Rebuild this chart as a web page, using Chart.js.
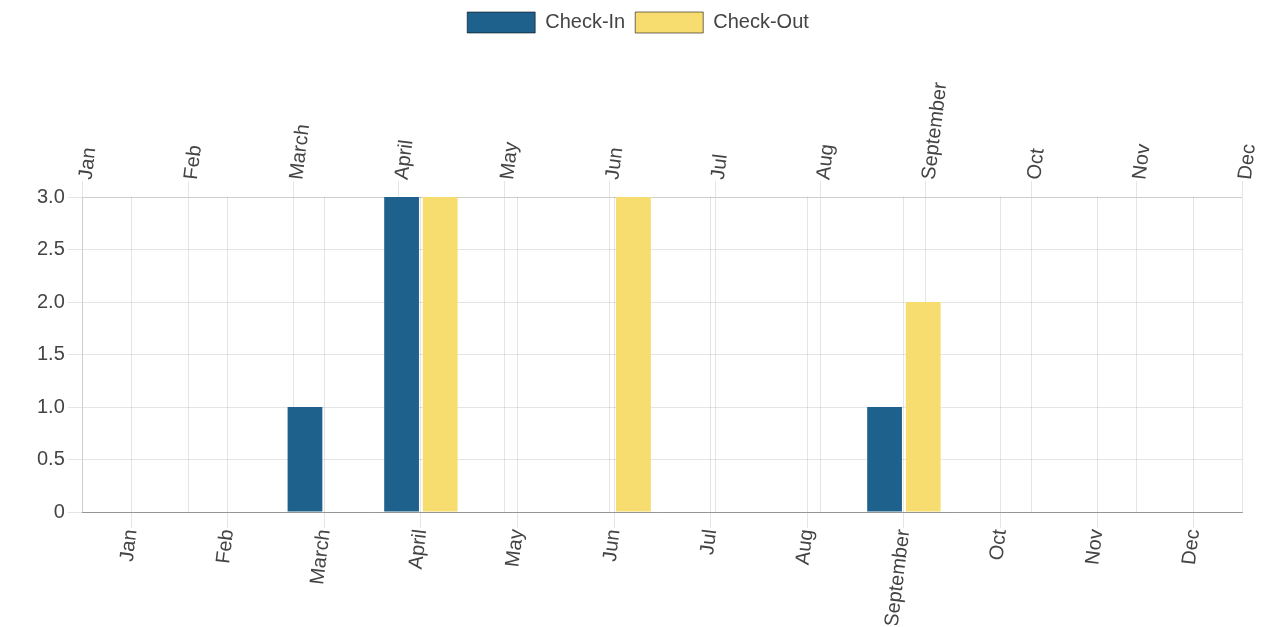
<!DOCTYPE html>
<html>
<head>
<meta charset="utf-8">
<script src="https://cdn.jsdelivr.net/npm/chart.js@4/dist/chart.umd.min.js"></script>
<style>
  html, body { margin: 0; padding: 0; background: #fff; }
  #wrap { width: 1261px; height: 627px; position: relative; }
</style>
</head>
<body>
<div id="wrap"><canvas id="myChart"></canvas></div>
<script>
// months on both x axes
const months = ["Jan", "Feb", "March", "April", "May", "Jun", "Jul", "Aug", "September", "Oct", "Nov", "Dec"];
// counts per month
const checkIn = [0, 0, 1, 3, 0, 0, 0, 0, 1, 0, 0, 0];
const checkOut = [0, 0, 0, 3, 0, 3, 0, 0, 2, 0, 0, 0];
const seriesNames = ["Check-In", "Check-Out"];
const barColors = ["#1F618D", "#F7DC6F"];

Chart.defaults.font.family = "Arial, 'Liberation Sans', sans-serif";
Chart.defaults.font.size = 20;
Chart.defaults.color = "#444";

const gridColor = "rgba(0,0,0,0.1)";

new Chart("myChart", {
  type: "bar",
  data: {
    labels: months,
    datasets: [
      { label: seriesNames[0], data: checkIn, backgroundColor: barColors[0], borderWidth: 0 },
      { label: seriesNames[1], data: checkOut, backgroundColor: barColors[1], borderWidth: 0 },
    ],
  },
  options: {
    responsive: true,
    maintainAspectRatio: false,
    animation: false,
    layout: { padding: { left: 34, right: 19, top: 2, bottom: 2 } },
    plugins: {
      tooltip: { enabled: false },
      legend: {
        position: "top",
        labels: {
          boxWidth: 68,
          boxHeight: 21,
          padding: 10,
          // legend boxes get a thin dark outline
          generateLabels: function (chart) {
            const items = Chart.defaults.plugins.legend.labels.generateLabels(chart);
            items.forEach(function (it) {
              it.strokeStyle = "rgba(0,0,0,0.55)";
              it.lineWidth = 1;
            });
            return items;
          },
        },
      },
    },
    scales: {
      x: {
        type: "category",
        position: "bottom",
        offset: true,
        grid: { offset: false, color: gridColor, tickLength: 16 },
        border: { color: "rgba(0,0,0,0.35)" },
        ticks: { minRotation: 83, maxRotation: 83, padding: 0, autoSkip: false },
        afterFit: function (scale) { scale.height = 113; },
      },
      x2: {
        type: "category",
        position: "top",
        offset: false,
        labels: months,
        grid: { offset: false, color: gridColor, tickLength: 16 },
        border: { color: gridColor },
        ticks: { minRotation: 83, maxRotation: 83, padding: 0, autoSkip: false, labelOffset: 27 },
        afterFit: function (scale) { scale.height = 154; },
      },
      y: {
        min: 0,
        max: 3,
        grid: { color: gridColor, tickLength: 15 },
        border: { color: gridColor },
        ticks: { stepSize: 0.5, padding: 3 },
      },
    },
  },
});
</script>
</body>
</html>
